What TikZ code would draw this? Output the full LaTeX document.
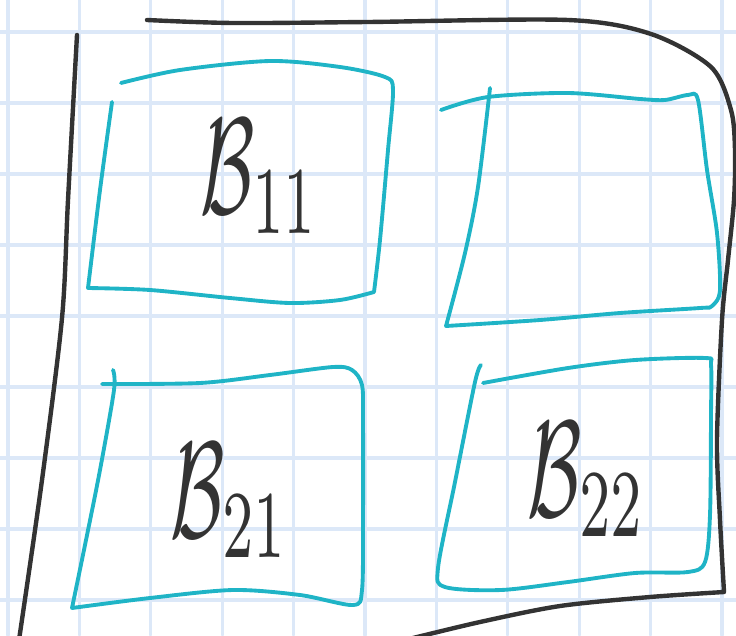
\documentclass[tikz,border=0pt]{standalone}
\definecolor{gridblue}{HTML}{DCE8F8}
\definecolor{inkgray}{HTML}{333333}
\definecolor{inkcyan}{HTML}{1FB4C6}
\newcommand{\cellname}[1]{\scalebox{4.5}[7.8]{$\mathcal{B}_{#1}$}}

\begin{document}
\begin{tikzpicture}[x=0.02cm,y=-0.02cm,line cap=round,line join=round,
  gridline/.style={gridblue, line width=1.8pt},
  outline/.style={inkgray, line width=2.5pt},
  cellline/.style={inkcyan, line width=2.2pt},
  celllabel/.style={inner sep=0pt, anchor=base west, text=inkgray}]
  \useasboundingbox (0,0) rectangle (736,635);
  % grid paper
  \foreach \x in {0,...,10}
    \draw[gridline] (8+71.4*\x,0) -- (8+71.4*\x,635);
  \foreach \y in {0,...,8}
    \draw[gridline] (0,32+71*\y) -- (736,32+71*\y);
  % outer border
  \draw[outline] plot[smooth] coordinates {(77,35) (68,200) (62,318) (42,480) (19,640)};
  \draw[outline] plot[smooth] coordinates {(147,20) (233,23) (368,22) (568,20) (651,34) (711,67)
    (731,110) (735,150) (734,200) (728,260) (722,320) (717,440) (720,520) (724,592)}
    -- plot[smooth] coordinates {(724,592) (650,597) (560,606) (480,622) (405,640)};
  % blocks
  \draw[cellline] plot[smooth] coordinates {(121,83) (180,70) (270,61) (340,67) (385,77) (393,90)
    (388,150) (380,240) (374,292)}
    -- plot[smooth] coordinates {(374,292) (340,300) (290,303) (230,298) (150,290) (88,288)}
    -- plot[smooth] coordinates {(88,288) (100,190) (112,102)};
  \draw[cellline] plot[smooth] coordinates {(441,110) (488,97) (568,93) (640,99) (665,100) (688,95)
    (698,100) (707,170) (717,233) (720,290) (712,306) (700,308) (620,313) (540,320) (446,326)}
    -- plot[smooth] coordinates {(446,326) (465,253) (478,187) (490,88)};
  \draw[cellline] plot[smooth] coordinates {(102,384) (200,383) (270,375) (333,367) (352,370) (362,385)
    (363,420) (363,520) (362,590) (353,605) (300,595) (233,590) (150,598) (72,608)}
    -- plot[smooth] coordinates {(72,608) (85,545) (100,470) (114,390) (113,370)};
  \draw[cellline] plot[smooth] coordinates {(481,365) (475,382) (455,482) (438,568) (445,587) (501,590)
    (568,582) (635,573) (688,572) (705,562) (710,515) (711,415) (711,365) (705,358) (635,360)
    (568,368) (483,383)};
  % labels
  \node[celllabel] (b11) at (200,213) {\cellname{11}};
  \node[celllabel] (b21) at (170,537) {\cellname{21}};
  \node[celllabel] (b22) at (527,516) {\cellname{22}};
\end{tikzpicture}
\end{document}
